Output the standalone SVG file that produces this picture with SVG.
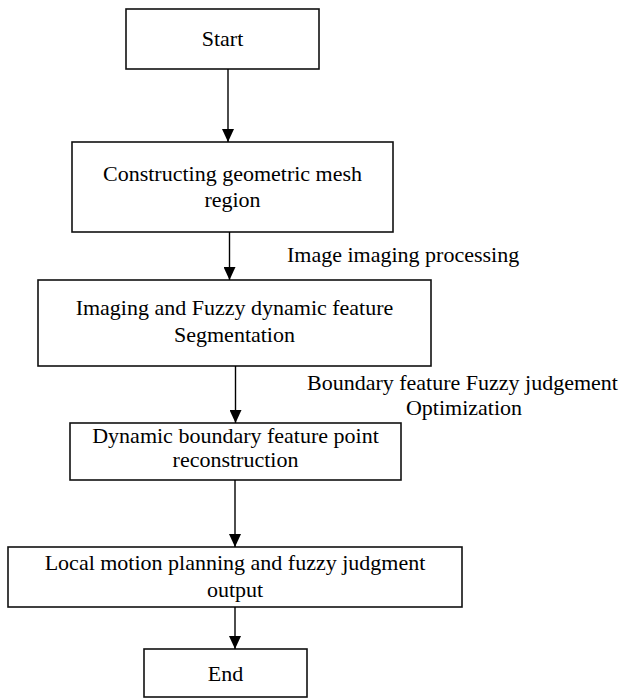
<svg xmlns="http://www.w3.org/2000/svg" width="625" height="698" viewBox="0 0 625 698">
<defs>
<marker id="ah" viewBox="0 0 13 12" refX="13" refY="6" markerWidth="13" markerHeight="12" markerUnits="userSpaceOnUse" orient="auto">
<path d="M0,0 L13,6 L0,12 Z" fill="#000"/>
</marker>
</defs>
<style>
rect{fill:#fff;stroke:#111;stroke-width:1.6}
text{font-family:"Liberation Serif","Times New Roman",serif;font-size:22px;fill:#000}
.c{text-anchor:middle}
.conn line{stroke:#000;stroke-width:1.4}
</style>
<rect x="0" y="0" width="625" height="698" style="stroke:none"/>
<g id="start"><rect x="126" y="9" width="193" height="60"/><text class="c" x="222.5" y="46">Start</text></g>
<g id="construct"><rect x="72" y="142" width="321" height="90"/><text class="c" x="232.5" y="181">Constructing geometric mesh</text><text class="c" x="232.5" y="207">region</text></g>
<g id="imaging"><rect x="38" y="280" width="393" height="86"/><text class="c" x="234.5" y="315">Imaging and Fuzzy dynamic feature</text><text class="c" x="234.5" y="342">Segmentation</text></g>
<g id="dynamic"><rect x="70" y="423" width="331" height="57"/><text class="c" x="235.5" y="443">Dynamic boundary feature point</text><text class="c" x="235.5" y="467">reconstruction</text></g>
<g id="local"><rect x="8" y="547" width="454" height="60"/><text class="c" x="235" y="570">Local motion planning and fuzzy judgment</text><text class="c" x="235" y="597">output</text></g>
<g id="end"><rect x="144" y="649" width="163" height="48"/><text class="c" x="225.5" y="681">End</text></g>
<g class="conn" id="connectors">
<line x1="228" y1="69" x2="228" y2="142" marker-end="url(#ah)"/>
<line x1="229.5" y1="232" x2="229.5" y2="280" marker-end="url(#ah)"/>
<line x1="235.5" y1="366" x2="235.5" y2="423" marker-end="url(#ah)"/>
<line x1="235" y1="480" x2="235" y2="547" marker-end="url(#ah)"/>
<line x1="235" y1="607" x2="235" y2="649" marker-end="url(#ah)"/>
</g>
<g id="labels">
<text x="287" y="262">Image imaging processing</text>
<text x="307" y="390">Boundary feature Fuzzy judgement</text>
<text class="c" x="464" y="415">Optimization</text>
</g>
</svg>
